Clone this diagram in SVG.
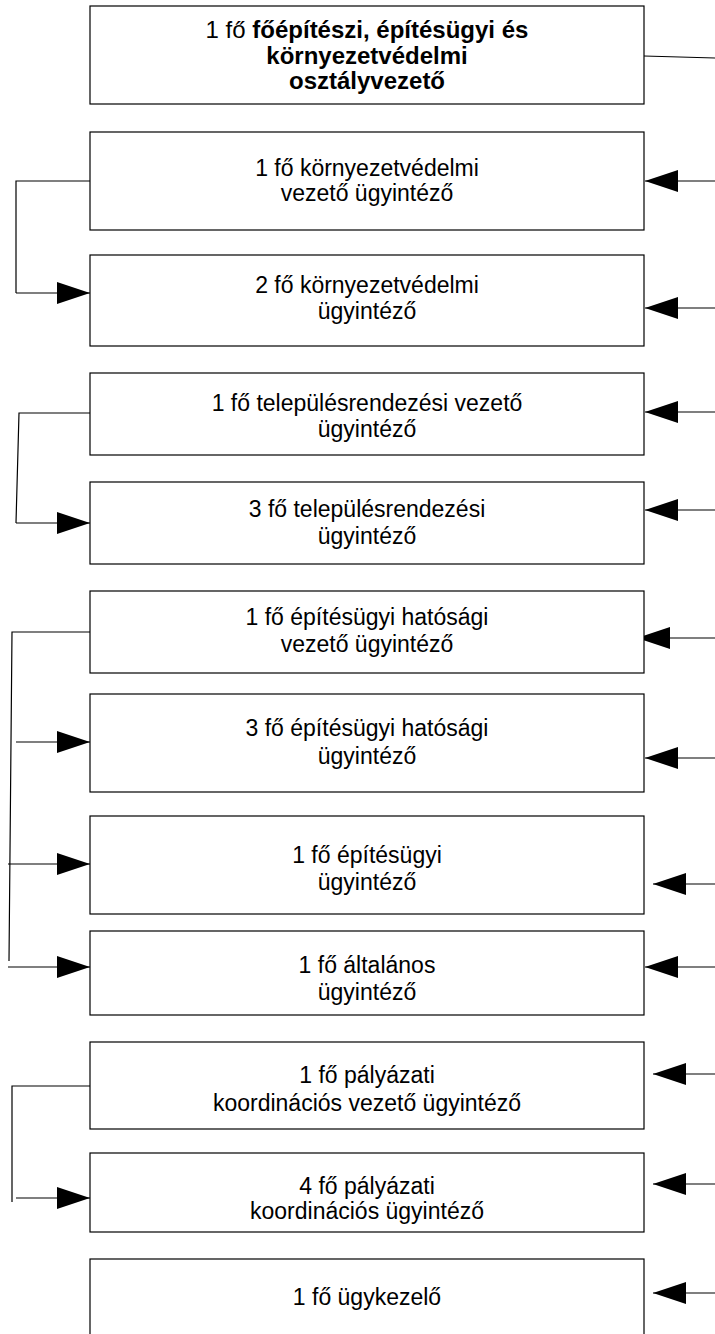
<svg xmlns="http://www.w3.org/2000/svg" width="715" height="1334" viewBox="0 0 715 1334">
  <style>
    .box { fill: #fff; stroke: #000; stroke-width: 1.2; }
    .lbl { font-family: "Liberation Sans", Arial, sans-serif; font-size: 23px; fill: #000; text-anchor: middle; }
    .head { font-size: 24px; }
    .b { font-weight: bold; }
    .wire { fill: none; stroke: #000; stroke-width: 1.2; }
    .arr { fill: none; stroke: #000; stroke-width: 1.2; marker-end: url(#head); }
  </style>
  <defs>
    <marker id="head" markerUnits="userSpaceOnUse" markerWidth="34" markerHeight="24" refX="33" refY="11" orient="auto">
      <path d="M0,0 L33,11 L0,22 Z" fill="#000"/>
    </marker>
  </defs>
  <rect width="715" height="1334" fill="#fff"/>

  <g id="connectors">
    <!-- incoming lines from the right edge -->
    <path class="wire" d="M644,56 L715,58"/>
    <path class="arr" d="M715,181 L645,181"/>
    <path class="arr" d="M715,308 L645,308"/>
    <path class="arr" d="M715,412 L645,412"/>
    <path class="arr" d="M715,510 L645,510"/>
    <path class="arr" d="M715,638 L637,638"/>
    <path class="arr" d="M715,758 L645,758"/>
    <path class="arr" d="M715,884 L653,884"/>
    <path class="arr" d="M715,967 L645,967"/>
    <path class="arr" d="M715,1074 L653,1074"/>
    <path class="arr" d="M715,1184 L653,1184"/>
    <path class="arr" d="M715,1293 L653,1293"/>

    <!-- environmental group -->
    <path class="wire" d="M90,181 L16,181 L16,293"/>
    <path class="arr" d="M16,293 L90,293"/>
    <!-- urban planning group -->
    <path class="wire" d="M90,413 L19,413 L16,523"/>
    <path class="arr" d="M16,523 L90,523"/>
    <!-- building authority group -->
    <path class="wire" d="M90,632 L12,632 L9,961"/>
    <path class="arr" d="M16,742 L90,742"/>
    <path class="arr" d="M8,864 L90,864"/>
    <path class="arr" d="M8,967 L90,967"/>
    <!-- tender coordination group -->
    <path class="wire" d="M90,1086 L12,1086 L12,1202"/>
    <path class="arr" d="M16,1198 L90,1198"/>
  </g>

  <g id="n1">
    <rect class="box" x="90" y="6" width="554" height="98"/>
    <text class="lbl head" x="367" y="38">1 fő <tspan class="b">főépítészi, építésügyi és</tspan></text>
    <text class="lbl head b" x="367" y="64">környezetvédelmi</text>
    <text class="lbl head b" x="367" y="89">osztályvezető</text>
  </g>
  <g id="n2">
    <rect class="box" x="90" y="132" width="554" height="98"/>
    <text class="lbl" x="367" y="176">1 fő környezetvédelmi</text>
    <text class="lbl" x="367" y="201">vezető ügyintéző</text>
  </g>
  <g id="n3">
    <rect class="box" x="90" y="255" width="554" height="91"/>
    <text class="lbl" x="367" y="293">2 fő környezetvédelmi</text>
    <text class="lbl" x="367" y="319">ügyintéző</text>
  </g>
  <g id="n4">
    <rect class="box" x="90" y="373" width="554" height="82"/>
    <text class="lbl" x="367" y="411">1 fő településrendezési vezető</text>
    <text class="lbl" x="367" y="437">ügyintéző</text>
  </g>
  <g id="n5">
    <rect class="box" x="90" y="482" width="554" height="82"/>
    <text class="lbl" x="367" y="517">3 fő településrendezési</text>
    <text class="lbl" x="367" y="544">ügyintéző</text>
  </g>
  <g id="n6">
    <rect class="box" x="90" y="591" width="554" height="82"/>
    <text class="lbl" x="367" y="625">1 fő építésügyi hatósági</text>
    <text class="lbl" x="367" y="652">vezető ügyintéző</text>
  </g>
  <g id="n7">
    <rect class="box" x="90" y="694" width="554" height="98"/>
    <text class="lbl" x="367" y="736">3 fő építésügyi hatósági</text>
    <text class="lbl" x="367" y="764">ügyintéző</text>
  </g>
  <g id="n8">
    <rect class="box" x="90" y="816" width="554" height="98"/>
    <text class="lbl" x="367" y="863">1 fő építésügyi</text>
    <text class="lbl" x="367" y="890">ügyintéző</text>
  </g>
  <g id="n9">
    <rect class="box" x="90" y="931" width="554" height="84"/>
    <text class="lbl" x="367" y="973">1 fő általános</text>
    <text class="lbl" x="367" y="1000">ügyintéző</text>
  </g>
  <g id="n10">
    <rect class="box" x="90" y="1042" width="554" height="87"/>
    <text class="lbl" x="367" y="1083">1 fő pályázati</text>
    <text class="lbl" x="367" y="1111">koordinációs vezető ügyintéző</text>
  </g>
  <g id="n11">
    <rect class="box" x="90" y="1153" width="554" height="79"/>
    <text class="lbl" x="367" y="1194">4 fő pályázati</text>
    <text class="lbl" x="367" y="1219">koordinációs ügyintéző</text>
  </g>
  <g id="n12">
    <rect class="box" x="90" y="1259" width="554" height="90"/>
    <text class="lbl" x="367" y="1305">1 fő ügykezelő</text>
  </g>
</svg>
